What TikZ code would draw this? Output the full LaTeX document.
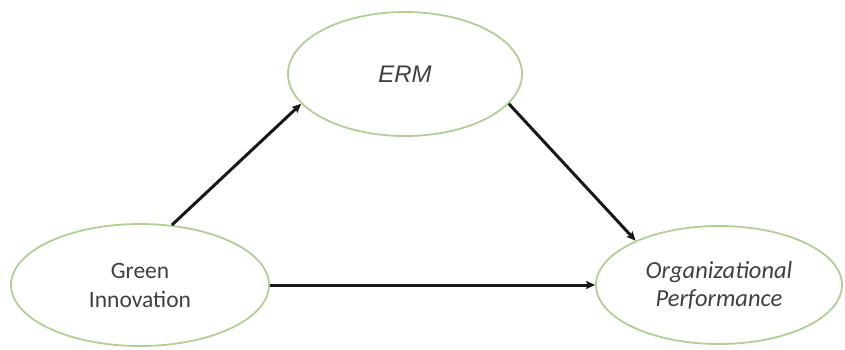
\documentclass[tikz,border=0pt]{standalone}
\usepackage{fontspec}
\setmainfont{Carlito}
\newfontfamily\arialfont{Liberation Sans}
\usetikzlibrary{shapes.geometric,arrows.meta}
\definecolor{ringgreen}{RGB}{178,206,150}
\definecolor{txtgray}{RGB}{64,64,64}
\definecolor{arrowdark}{RGB}{25,25,25}
\tikzset{
  construct/.style={ellipse, draw=ringgreen, line width=1.8pt, inner sep=0pt,
    text=txtgray, align=center},
  link/.style={draw=arrowdark, line width=3pt,
    -{Stealth[length=9pt,width=8pt,inset=1.5pt]}}
}
\begin{document}
\begin{tikzpicture}[x=1pt,y=-1pt]
\useasboundingbox (0,0) rectangle (845,349);
\node[construct, minimum width=234pt, minimum height=124pt,
  font=\arialfont\itshape\fontsize{24}{28}\selectfont] (erm) at (405,74) {ERM};
\node[construct, minimum width=258pt, minimum height=122pt,
  font=\fontsize{23.5}{29}\selectfont] (gi) at (140,285) {Green\\Innovation};
\node[construct, minimum width=246pt, minimum height=118pt,
  font=\itshape\fontsize{24.5}{28}\selectfont] (org) at (719,285) {Organizational\\Performance};
\draw[link] (gi.62) -- (erm.196);
\draw[link] (erm.-16) -- (org.152);
\draw[link] (gi.east) -- (org.west);
\end{tikzpicture}
\end{document}
